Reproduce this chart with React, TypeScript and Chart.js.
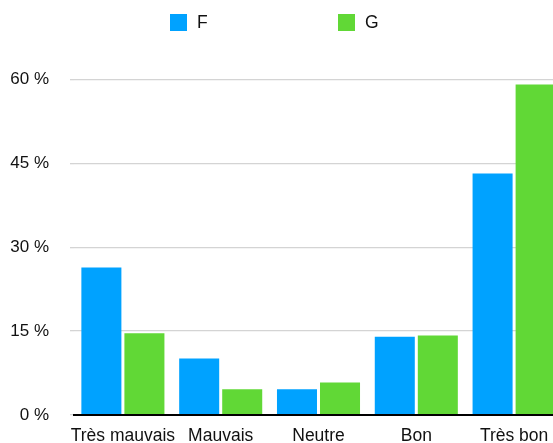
import React, { useEffect, useRef } from "react";
import { Chart, registerables } from "chart.js";

Chart.register(...registerables);

const categories = ["Très mauvais", "Mauvais", "Neutre", "Bon", "Très bon"];
const seriesNames = ["F", "G"];
const seriesF = [26.4, 10.1, 4.6, 14.0, 43.2];
const seriesG = [14.6, 4.6, 5.8, 14.2, 59.1];
const yTicks = [0, 15, 30, 45, 60];
const colors = ["#00A2FF", "#61D836"];

const FONT = "'Liberation Sans', Arial, Helvetica, sans-serif";

export default function App() {
  const ref = useRef<HTMLCanvasElement>(null);

  useEffect(() => {
    if (!ref.current) return;
    const chart = new Chart(ref.current, {
      type: "bar",
      data: {
        labels: categories,
        datasets: [
          { label: seriesNames[0], data: seriesF, backgroundColor: colors[0], borderWidth: 0 },
          { label: seriesNames[1], data: seriesG, backgroundColor: colors[1], borderWidth: 0 },
        ],
      },
      options: {
        animation: false,
        responsive: false,
        maintainAspectRatio: false,
        devicePixelRatio: 1,
        layout: { padding: { top: 79.5, left: 0, right: 0, bottom: 0 } },
        plugins: { legend: { display: false }, tooltip: { enabled: false } },
        datasets: { bar: { categoryPercentage: 0.88, barPercentage: 0.93 } },
        scales: {
          x: {
            afterFit: (s: any) => {
              s.height = 28;
            },
            grid: { display: false, drawTicks: false },
            border: { display: true, color: "#000", width: 2, z: 1 },
            ticks: { color: "#111", font: { family: FONT, size: 17.5 }, padding: 11, maxRotation: 0, autoSkip: false },
          },
          y: {
            min: yTicks[0],
            max: yTicks[yTicks.length - 1],
            afterBuildTicks: (s: any) => {
              s.ticks = yTicks.map((v) => ({ value: v }));
            },
            afterFit: (s: any) => {
              s.width = 74;
              s.paddingTop = 0;
              s.paddingBottom = 0;
            },
            grid: { color: "#d4d4d4", lineWidth: 1.3, tickLength: 4, drawTicks: true },
            border: { display: false },
            ticks: {
              color: "#111",
              font: { family: FONT, size: 17 },
              padding: 21,
              callback: (v: any) => `${v} %`,
            },
          },
        },
      },
    });
    return () => chart.destroy();
  }, []);

  const legendItem = (i: number, left: number) => (
    <div
      key={i}
      style={{
        position: "absolute",
        left,
        top: 14,
        display: "flex",
        alignItems: "center",
        fontFamily: FONT,
        fontSize: 17.5,
        color: "#111",
        height: 17,
      }}
    >
      <span style={{ display: "inline-block", width: 17, height: 17, background: colors[i], marginRight: 10 }} />
      <span>{seriesNames[i]}</span>
    </div>
  );

  return (
    <div
      style={{
        position: "fixed",
        left: 0,
        top: 0,
        width: 553,
        height: 443,
        overflow: "hidden",
        background: "#fff",
      }}
    >
      <canvas
        ref={ref}
        width={563}
        height={443}
        style={{ position: "absolute", left: 0, top: 0, width: 563, height: 443, display: "block" }}
      />
      {legendItem(0, 170)}
      {legendItem(1, 338)}
    </div>
  );
}
